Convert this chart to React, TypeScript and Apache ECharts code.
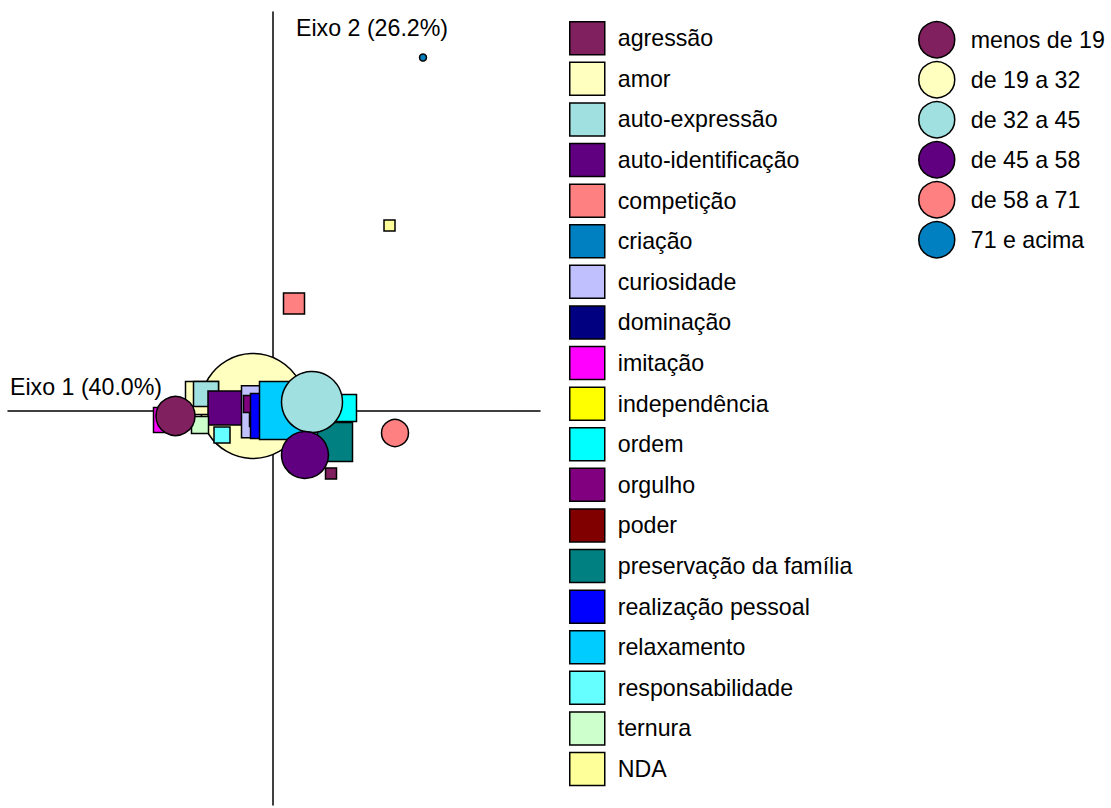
import React, { useEffect, useRef } from "react";
import * as echarts from "echarts";

// Categorias (quadrados)
const categorias = [
  "agressão", "amor", "auto-expressão", "auto-identificação", "competição",
  "criação", "curiosidade", "dominação", "imitação", "independência",
  "ordem", "orgulho", "poder", "preservação da família", "realização pessoal",
  "relaxamento", "responsabilidade", "ternura", "NDA",
];
const eixo1Cat = [0.58, -0.71, -0.67, -0.48, 0.21, 0.15, -0.055, -0.11, -1.07, 0.17, 0.7, -0.21, -0.03, 0.6, 0.0, 0.155, -0.51, -0.73, 1.165];
const eixo2Cat = [-0.625, 0.13, 0.17, 0.03, 1.075, 0.01, -0.007, -0.03, -0.09, -0.01, 0.03, 0.07, -0.01, -0.31, -0.05, 0.005, -0.24, -0.14, 1.855];
const pesoCat = [1.2, 3.4, 2.6, 3.5, 2.2, 2.0, 5.3, 2.6, 2.6, 1.4, 2.8, 1.8, 1.0, 4.0, 4.6, 5.9, 1.7, 1.8, 1.2];

// Faixas etárias (círculos)
const faixas = ["menos de 19", "de 19 a 32", "de 32 a 45", "de 45 a 58", "de 58 a 71", "71 e acima"];
const eixo1Faixa = [-0.975, -0.2, 0.39, 0.32, 1.22, 1.5];
const eixo2Faixa = [-0.05, 0.05, 0.09, -0.44, -0.22, 3.535];
const pesoFaixa = [4.0, 10.6, 6.2, 4.8, 2.8, 0.8];

const coresCat = [
  "#80205f", "#ffffc0", "#a0e0e0", "#600080", "#ff8080", "#0080c0", "#c0c0ff",
  "#000080", "#ff00ff", "#ffff00", "#00ffff", "#800080", "#800000", "#008080",
  "#0000ff", "#00ccff", "#66ffff", "#ccffcc", "#ffff99",
];
const coresFaixa = ["#80205f", "#ffffc0", "#a0e0e0", "#600080", "#ff8080", "#0080c0"];

const FONT = "'Liberation Sans', Arial, sans-serif";
const FS = 23.2;
const toPx = (w: number) => w * 10 - 1;

export default function App() {
  const ref = useRef<HTMLDivElement>(null);
  useEffect(() => {
    if (!ref.current) return;
    const chart = echarts.init(ref.current, undefined, { renderer: "svg" });
    const border = { borderColor: "#000", borderWidth: 1.5 };
    const series: any[] = [];
    faixas.forEach((f, i) => {
      const big = i === 1;
      series.push({
        type: "scatter",
        name: f,
        symbol: "circle",
        symbolSize: toPx(pesoFaixa[i]),
        data: [[eixo1Faixa[i], eixo2Faixa[i]]],
        itemStyle: { color: coresFaixa[i], opacity: 1, ...border },
        emphasis: { disabled: true },
        z: big ? 2 : 4,
      });
    });
    categorias.forEach((c, i) => {
      const s = toPx(pesoCat[i]);
      series.push({
        type: "scatter",
        name: c,
        symbol: "rect",
        symbolSize: [s, s],
        data: [[eixo1Cat[i], eixo2Cat[i]]],
        itemStyle: { color: coresCat[i], opacity: 1, ...border },
        emphasis: { disabled: true },
        z: 3,
      });
    });
    const axisCommon = {
      type: "value",
      axisLine: { show: true, onZero: true, lineStyle: { color: "#000", width: 1.5 } },
      axisTick: { show: false },
      axisLabel: { show: false },
      splitLine: { show: false },
    };
    chart.setOption({
      animation: false,
      grid: { left: 8, right: 571, top: 12, bottom: 3 },
      xAxis: { ...axisCommon, min: -2.65, max: 2.67 },
      yAxis: { ...axisCommon, min: -3.94, max: 3.99 },
      legend: [
        {
          data: categorias,
          orient: "vertical",
          left: 569,
          top: 21,
          height: 785,
          padding: 0,
          icon: "rect",
          itemWidth: 35,
          itemHeight: 33,
          itemGap: 6.1,
          selectedMode: false,
          itemStyle: { borderColor: "#000", borderWidth: 1.5 },
          textStyle: { fontFamily: FONT, fontSize: FS, color: "#000", padding: [0, 0, 0, 8] },
        },
        {
          data: faixas,
          orient: "vertical",
          left: 918,
          top: 21,
          padding: 0,
          icon: "circle",
          itemWidth: 36,
          itemHeight: 36,
          itemGap: 2.5,
          selectedMode: false,
          itemStyle: { borderColor: "#000", borderWidth: 1.5 },
          textStyle: { fontFamily: FONT, fontSize: FS, color: "#000", padding: [0, 0, 0, 11] },
        },
      ],
      graphic: [
        {
          type: "text",
          left: 10,
          top: 375,
          style: { text: "Eixo 1 (40.0%)", fontFamily: FONT, fontSize: FS, fill: "#000" },
        },
        {
          type: "text",
          left: 296,
          top: 16,
          style: { text: "Eixo 2 (26.2%)", fontFamily: FONT, fontSize: FS, fill: "#000" },
        },
      ],
      series,
    });
    return () => chart.dispose();
  }, []);
  return (
    <div
      ref={ref}
      style={{ position: "fixed", left: 0, top: 0, width: 1111, height: 808, background: "#fff" }}
    />
  );
}
